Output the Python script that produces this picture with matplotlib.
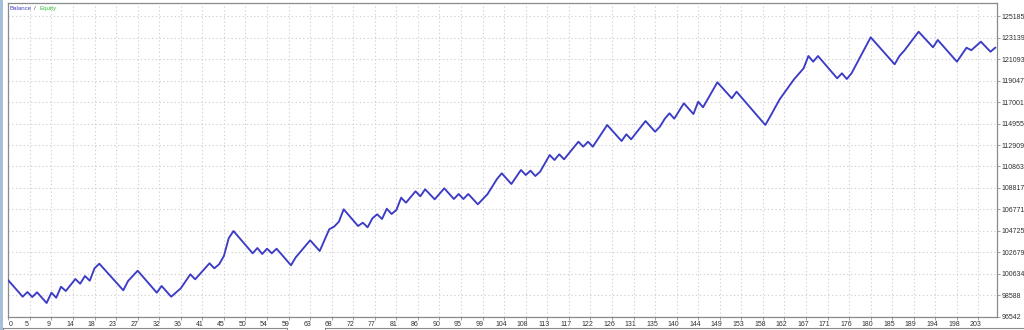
import matplotlib
matplotlib.use("Agg")
import matplotlib.pyplot as plt
import matplotlib.transforms as mtransforms
from matplotlib.lines import Line2D
from matplotlib.patches import Rectangle

# Balance curve (one value per trade)
balance = [
    100000, 99480, 98960, 98440, 98888, 98411, 98860, 98350, 97839, 98822,
    98345, 99394, 98984, 99556, 100128, 99680, 100414, 99966, 101149, 101588,
    101080, 100572, 100064, 99558, 99050, 99938, 100430, 100920, 100395, 99870,
    99347, 98822, 99461, 98950, 98440, 98840, 99241, 99909, 100577, 100100,
    100609, 101117, 101626, 101149, 101530, 102322, 104010, 104707, 104175, 103643,
    103112, 102580, 103085, 102513, 103018, 102580, 103018, 102490, 101963, 101435,
    102198, 102738, 103279, 103819, 103309, 102799, 103840, 104880, 105120, 105594,
    106776, 106245, 105714, 105183, 105498, 105059, 105918, 106300, 105851, 106834,
    106328, 106710, 107883, 107406, 107950, 108493, 108016, 108684, 108207, 107730,
    108255, 108779, 108269, 107759, 108236, 107759, 108236, 107745, 107253, 107730,
    108207, 108932, 109666, 110210, 109700, 109189, 109857, 110525, 110048, 110458,
    109952, 110363, 111159, 111955, 111479, 112022, 111545, 112105, 112665, 113224,
    112747, 113224, 112747, 113437, 114127, 114817, 114308, 113800, 113291, 113930,
    113453, 114035, 114616, 115198, 114688, 114178, 114655, 115400, 115933, 115418,
    116150, 116887, 116376, 115866, 117039, 116505, 117300, 118095, 118890, 118381,
    117872, 117364, 117993, 117463, 116934, 116405, 115875, 115346, 114817, 115609,
    116440, 117268, 117904, 118540, 119176, 119700, 120225, 121398, 120855, 121398,
    120866, 120334, 119803, 119271, 119748, 119204, 119748, 120607, 121465, 122324,
    123182, 122667, 122152, 121636, 121121, 120606, 121398, 121904, 122508, 123112,
    123716, 123220, 122724, 122228, 122924, 122407, 121890, 121372, 120855, 121522,
    122190, 121950, 122356, 122762, 122285, 121808, 122190,
]

y_tick_values = [96542, 98588, 100634, 102679, 104725, 106771, 108817, 110863,
                 112909, 114955, 117001, 119047, 121093, 123139, 125185]
x_tick_labels = ['0', '5', '9', '14', '18', '23', '27', '32', '36', '41', '45', '50',
                 '54', '59', '63', '68', '72', '77', '81', '86', '90', '95', '99',
                 '104', '108', '113', '117', '122', '126', '131', '135', '140', '144',
                 '149', '153', '158', '162', '167', '171', '176', '180', '185', '189',
                 '194', '198', '203']
x_tick_step = 4.5

FONT = 'Liberation Sans'
FS = 5.0
W, H = 1024, 330

fig = plt.figure(figsize=(W / 100, H / 100), dpi=100)
fig.patch.set_facecolor('white')

L, R, T, B = 8.3, 996.7, 3.3, 316.6
ax = fig.add_axes([L / W, 1 - B / H, (R - L) / W, (B - T) / H])
ax.set_facecolor('white')

ax.plot(range(len(balance)), balance, color='#3b3bc6', lw=1.35, zorder=3)

ax.set_xlim(0, 206.3)
ax.set_ylim(96542, 126425)

xpos = [k * x_tick_step for k in range(len(x_tick_labels))]
ax.set_xticks(xpos)
ax.set_xticklabels(x_tick_labels, fontsize=FS, family=FONT, color='#303030')
ax.set_yticks(y_tick_values)
ax.set_yticklabels([str(v) for v in y_tick_values], fontsize=FS, family=FONT, color='#303030')
ax.yaxis.tick_right()
ax.tick_params(axis='both', length=2, width=0.6, color='#909090', pad=1.2)
for lab in ax.get_yticklabels():
    lab.set_horizontalalignment('left')

# MT4 places the x labels a little left of their grid lines (first one right of the border)
for i, lab in enumerate(ax.get_xticklabels()):
    dx = 2.2 if i == 0 else -3.0
    lab.set_transform(lab.get_transform() + mtransforms.ScaledTranslation(dx / 100, 0, fig.dpi_scale_trans))

ax.grid(True, color='#d2d2d2', ls=(0, (1.2, 2.2)), lw=0.8, zorder=0)
for s in ax.spines.values():
    s.set_color('#8a8a8a')
    s.set_linewidth(0.9)

# legend text
def px(x, y):
    return x / W, 1 - y / H

LFS = 4.4
fig.text(*px(10, 8.5), 'Balance', color='#4545c0', fontsize=LFS, family=FONT, va='center', ha='left')
fig.text(*px(34, 8.5), '/', color='#505050', fontsize=LFS, family=FONT, va='center', ha='left')
fig.text(*px(39, 8.5), 'Equity', color='#30c030', fontsize=LFS, family=FONT, va='center', ha='left')

# window chrome: left strip and bottom tabs
fig.patches.append(Rectangle((0, 0), 3.3 / W, 1, transform=fig.transFigure,
                             facecolor='#a8bfd9', edgecolor='none', zorder=0))
for x0, x1 in [(3, 287), (325, 1024)]:
    fig.add_artist(Line2D([x0 / W, x1 / W], [1 - 327.5 / H] * 2, color='#8a8a8a', lw=0.8))
    fig.add_artist(Line2D([x0 / W, x0 / W], [1 - 327.5 / H, 0], color='#8a8a8a', lw=0.8))
fig.add_artist(Line2D([287 / W, 287 / W], [1 - 327.5 / H, 0], color='#8a8a8a', lw=0.8))

fig.savefig('out.png', dpi=100)
